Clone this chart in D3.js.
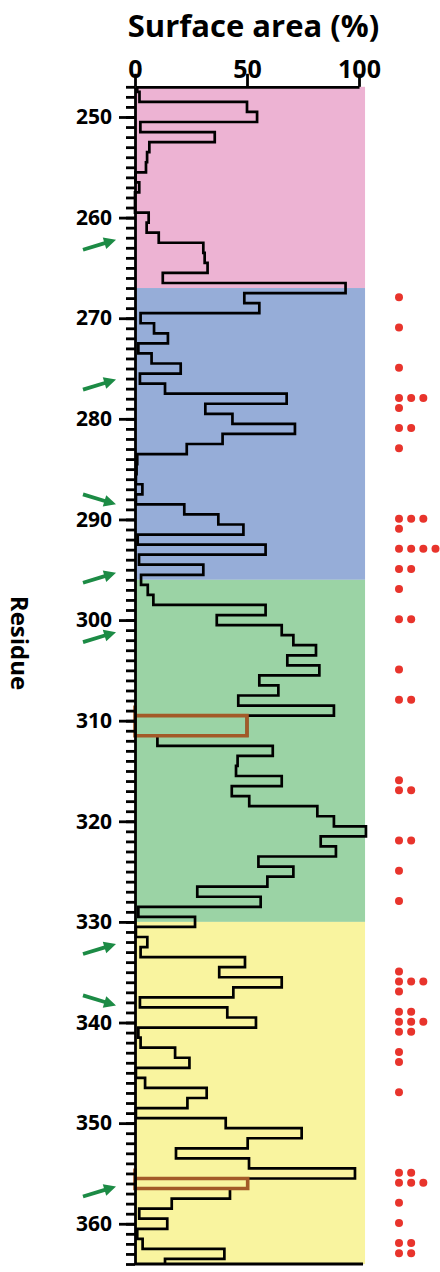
<!DOCTYPE html>
<html>
<head>
<meta charset="utf-8">
<script src="https://cdn.jsdelivr.net/npm/d3@7.9.0/dist/d3.min.js"></script>
<style>
  html, body { margin: 0; padding: 0; background: #fff; }
  svg { display: block; }
  text { font-family: 'Open Sans', 'Noto Sans', sans-serif; font-weight: 700; fill: #000; }
</style>
</head>
<body>
<svg id="chart" width="440" height="1272"></svg>
<script>
// residues shown on the vertical axis
const firstResidue = 247;
const lastResidue = 364;

// surface area (%) per residue, 247 .. 364
const surfaceArea = [
  1, 2, 50, 54.5, 2.4, 35.6, 6.4, 5.4, 4.9, 0.2,        // 247-256
  1.9, 0, 0, 6.1, 5.2, 10.6, 30.5, 31.1, 32.4, 12.4,    // 257-266
  94, 48.8, 55.5, 2.5, 8.5, 14.7, 1.5, 7.4, 20.4, 2.2,  // 267-276
  13.4, 67.7, 31.4, 43.5, 71.4, 39.1, 23.1, 1, 0.7, 0.4, // 277-286
  3.3, 0.4, 22, 37.2, 48.4, 1.2, 58.3, 1.8, 30.5, 2.7,  // 287-296
  5.7, 8.2, 58.3, 36.5, 65.5, 70.7, 80.8, 68, 82.3, 55.5, // 297-306
  64, 46.1, 88.8, 50, 50, 10, 61.5, 45.8, 45.1, 65.5,   // 307-316
  43.2, 51, 81.4, 88.8, 103.1, 82.9, 89.7, 55.1, 70.7, 59.1, // 317-326
  27.8, 56.1, 1.5, 26.8, 0.4, 5.5, 2.5, 49.1, 37.6, 65.5, // 327-336
  43.9, 2.2, 41.2, 54, 1.5, 2.5, 17.9, 24.3, 0.4, 4.5,  // 337-346
  32, 23.4, 0.4, 40.5, 74.4, 50.3, 18.3, 50.9, 98.2, 50.3, // 347-356
  42.4, 16.4, 1.9, 14.4, 1, 3.4, 39.9, 13.4             // 357-364
];

// coloured domains: boundaries in residue numbers
const domainBounds = [247, 267, 296, 330, 364];
const domainColors = ['#edb3d3', '#96add8', '#9bd3a5', '#f9f49f'];

// residue ranges outlined in brown
const highlightRanges = [[310, 311], [356, 356]];

// green arrows, residue at the arrow tip
const arrowsUp = [262.2, 276.1, 295.3, 301.2, 332.2, 356.3];
const arrowsDown = [288.5, 338.3];

// red dots: residue and number of dots
const dotResidues = [268, 271, 275, 278, 279, 281, 283, 290, 291, 293, 295, 297,
  300, 305, 308, 316, 317, 322, 325, 328, 335, 336, 337, 339, 340, 341, 343, 344,
  347, 355, 356, 358, 360, 362, 363];
const dotCounts = [1, 1, 1, 3, 1, 2, 1, 3, 1, 4, 2, 1,
  2, 1, 2, 1, 2, 2, 1, 1, 1, 3, 1, 2, 3, 2, 1, 1,
  1, 2, 3, 1, 1, 2, 2];

const xTicks = [0, 50, 100];
const xMax = 102.7; // right edge of the coloured background

const svg = d3.select('#chart');

const x = d3.scaleLinear().domain([0, 100]).range([135, 359]);
const y = d3.scaleLinear().domain([firstResidue, lastResidue]).range([86.8, 1264]);
const dotX = d3.scaleLinear().domain([0, 3]).range([399, 435.5]);

// background bands
svg.append('g')
  .selectAll('rect')
  .data(d3.range(domainColors.length))
  .join('rect')
  .attr('x', x(0))
  .attr('y', (i) => y(domainBounds[i]))
  .attr('width', x(xMax) - x(0))
  .attr('height', (i) => y(domainBounds[i + 1]) - y(domainBounds[i]))
  .attr('fill', (i) => domainColors[i]);

// step outline of the surface area
const stepPoints = [];
surfaceArea.forEach((v, i) => {
  const r = firstResidue + i;
  stepPoints.push([v, Math.max(r - 0.5, firstResidue)]);
  stepPoints.push([v, Math.min(r + 0.5, lastResidue)]);
});

const line = d3.line().x((d) => x(d[0])).y((d) => y(d[1]));

svg.append('path')
  .datum(stepPoints)
  .attr('d', line)
  .attr('fill', 'none')
  .attr('stroke', '#000')
  .attr('stroke-width', 2.7)
  .attr('stroke-linejoin', 'miter');

// brown highlighted residues
svg.append('g')
  .selectAll('path')
  .data(highlightRanges)
  .join('path')
  .attr('d', ([r0, r1]) => {
    const v = surfaceArea[r0 - firstResidue];
    return line([[0, r0 - 1.5], [0, r1 + 0.5], [v, r1 + 0.5], [v, r0 - 0.5], [0, r0 - 0.5]]);
  })
  .attr('fill', 'none')
  .attr('stroke', '#a35a28')
  .attr('stroke-width', 3.6);

// bottom border
svg.append('line')
  .attr('x1', x(0)).attr('x2', x(xMax) - 2)
  .attr('y1', y(lastResidue)).attr('y2', y(lastResidue))
  .attr('stroke', '#000').attr('stroke-width', 2.8);

// left axis: minor ticks every residue, labelled every ten
const minorAxis = svg.append('g')
  .attr('transform', `translate(${x(0)},0)`)
  .call(d3.axisLeft(y)
    .tickValues(d3.range(firstResidue, lastResidue + 1))
    .tickSize(9).tickSizeOuter(0).tickFormat(''));

const majorAxis = svg.append('g')
  .attr('transform', `translate(${x(0)},0)`)
  .call(d3.axisLeft(y)
    .tickValues(d3.range(250, 361, 10))
    .tickSize(16).tickPadding(7));
majorAxis.select('.domain').remove();
majorAxis.selectAll('text').attr('font-size', 21).attr('font-family', null);

// top axis
const topAxis = svg.append('g')
  .attr('transform', `translate(0,${y(firstResidue)})`)
  .call(d3.axisTop(x).tickValues(xTicks).tickSize(13).tickSizeOuter(0).tickPadding(-4.5));
topAxis.selectAll('text').attr('font-size', 25).attr('font-family', null);

svg.selectAll('.tick line, .domain')
  .attr('stroke', '#000')
  .attr('stroke-width', 2.8);

// titles
svg.append('text')
  .attr('x', 253.5)
  .attr('y', 37)
  .attr('text-anchor', 'middle')
  .attr('font-size', 31)
  .text('Surface area (%)');

svg.append('text')
  .attr('transform', 'translate(11,643) rotate(90)')
  .attr('text-anchor', 'middle')
  .attr('font-size', 24)
  .text('Residue');

// green arrows
const arrowColor = '#1c8b45';
function drawArrow(tipRes, dir) {
  const tx = 116;
  const ty = y(tipRes);
  const sx = 83;
  const sy = ty + dir * 10;
  const len = Math.hypot(tx - sx, ty - sy);
  const ux = (tx - sx) / len;
  const uy = (ty - sy) / len;
  const headLen = 12;
  const headHalf = 6;
  const bx = tx - ux * headLen;
  const by = ty - uy * headLen;
  const g = svg.append('g');
  g.append('line')
    .attr('x1', sx).attr('y1', sy)
    .attr('x2', bx + ux * 2).attr('y2', by + uy * 2)
    .attr('stroke', arrowColor).attr('stroke-width', 3.8);
  g.append('path')
    .attr('d', `M${tx},${ty}L${bx - uy * headHalf},${by + ux * headHalf}L${bx + uy * headHalf},${by - ux * headHalf}Z`)
    .attr('fill', arrowColor);
}
arrowsUp.forEach((r) => drawArrow(r, 1));
arrowsDown.forEach((r) => drawArrow(r, -1));

// red dots
const dots = [];
dotResidues.forEach((r, i) => {
  for (let k = 0; k < dotCounts[i]; k++) dots.push({ r, k });
});

svg.append('g')
  .selectAll('circle')
  .data(dots)
  .join('circle')
  .attr('cx', (d) => dotX(d.k))
  .attr('cy', (d) => y(d.r) - 0.8)
  .attr('r', 4)
  .attr('fill', '#e8342c');
</script>
</body>
</html>
